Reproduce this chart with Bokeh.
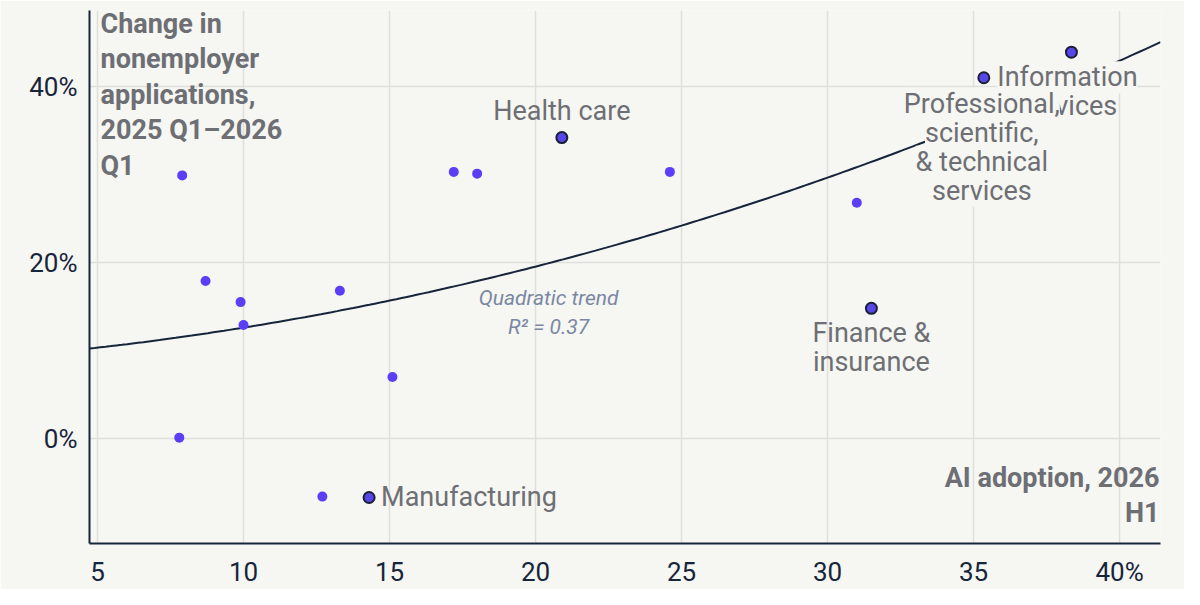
import numpy as np
from bokeh.plotting import figure
from bokeh.models import ColumnDataSource, FixedTicker
from bokeh.core.properties import value
from bokeh.embed import file_html
from bokeh.resources import INLINE

# ---- data ----
# unlabeled industries: AI adoption (%) and change in nonemployer applications (%)
ai_adoption = [7.9, 8.7, 9.9, 10.0, 7.8, 13.3, 12.7, 15.1, 17.2, 18.0, 24.6, 31.0]
nonemp_change = [29.9, 17.9, 15.5, 12.9, 0.1, 16.8, -6.6, 7.0, 30.3, 30.1, 30.3, 26.8]

# labeled industries
labeled_names = ["Manufacturing", "Health care", "Finance &\ninsurance",
                 "Professional,\nscientific,\n& technical\nservices",
                 "Information\nservices"]
labeled_ai = [14.3, 20.9, 31.5, 35.35, 38.35]
labeled_change = [-6.7, 34.2, 14.8, 41.0, 43.9]

x_ticks = [5, 10, 15, 20, 25, 30, 35, 40]
x_tick_labels = ["5", "10", "15", "20", "25", "30", "35", "40%"]
y_ticks = [0, 20, 40]
y_tick_labels = ["0%", "20%", "40%"]

y_title = "Change in\nnonemployer\napplications,\n2025 Q1\u20132026\nQ1"
x_title = "AI adoption, 2026\nH1"
trend_text = "Quadratic trend\nR\u00b2 = 0.37"

# ---- styles ----
BG = "#f6f6f2"
GRID = "#dfdfdb"
AXIS = "#16253a"
LABEL = "#6d6f74"
DOT = "#5b3ef5"
DOT_HL = "#5747e8"
TREND_TXT = "#7a88a2"
FONT = value("Roboto")

X0, X1 = 4.726, 41.40
Y0, Y1 = -11.93, 48.64

p = figure(width=1184, height=589, x_range=(X0, X1), y_range=(Y0, Y1),
           output_backend="svg", toolbar_location=None,
           min_border_left=89, min_border_right=24,
           min_border_top=10, min_border_bottom=46,
           background_fill_color=BG, border_fill_color=BG)
p.outline_line_color = None

# axes
p.xaxis.ticker = FixedTicker(ticks=x_ticks)
p.xaxis.major_label_overrides = {t: l for t, l in zip(x_ticks, x_tick_labels)}
p.yaxis.ticker = FixedTicker(ticks=y_ticks)
p.yaxis.major_label_overrides = {t: l for t, l in zip(y_ticks, y_tick_labels)}
for ax in (p.xaxis, p.yaxis):
    ax.axis_line_color = AXIS
    ax.axis_line_width = 2
    ax.major_tick_line_color = None
    ax.minor_tick_line_color = None
    ax.major_tick_out = 0
    ax.major_tick_in = 0
    ax.minor_tick_out = 0
    ax.minor_tick_in = 0
    ax.major_label_text_font = "Roboto"
    ax.major_label_text_font_size = "26px"
    ax.major_label_text_color = AXIS
p.xaxis.major_label_standoff = 13
p.yaxis.major_label_standoff = 12

p.xgrid.ticker = FixedTicker(ticks=x_ticks)
p.ygrid.ticker = FixedTicker(ticks=y_ticks)
for g in (p.xgrid, p.ygrid):
    g.grid_line_color = GRID
    g.grid_line_width = 1.5

# quadratic trend fitted to all points
all_x = np.array(ai_adoption + labeled_ai)
all_y = np.array(nonemp_change + labeled_change)
coef = np.polyfit(all_x, all_y, 2)
xs = np.linspace(X0, X1, 200)
p.line(xs, np.polyval(coef, xs), line_color=AXIS, line_width=2)

# points
p.scatter(ai_adoption, nonemp_change, size=10, fill_color=DOT, line_color=None)
p.scatter(labeled_ai, labeled_change, size=11, fill_color=DOT_HL,
          line_color="#1b2035", line_width=2)


def add_text(x, y, text, dx, dy, align, size, color, style="normal",
             line_h=29, bg=None):
    lines = text.split("\n")
    src = ColumnDataSource(dict(
        x=[x] * len(lines), y=[y] * len(lines), text=lines,
        xo=[dx] * len(lines), yo=[dy + i * line_h for i in range(len(lines))]))
    kw = {}
    if bg is not None:
        kw = dict(background_fill_color=bg)
    p.text(x="x", y="y", text="text", x_offset="xo", y_offset="yo", source=src,
           text_align=align, text_baseline="middle", text_font=FONT,
           text_font_size=size, text_color=color, text_font_style=style, **kw)


# point labels
label_off = {
    "Manufacturing": (12, 0, "left", None),
    "Health care": (0, -27, "center", None),
    "Finance &\ninsurance": (0, 25, "center", None),
    "Information\nservices": (-4, 25, "center", BG),
    "Professional,\nscientific,\n& technical\nservices": (-2, 26, "center", BG),
}
order = [0, 1, 2, 4, 3]
for i in order:
    name = labeled_names[i]
    dx, dy, al, bg = label_off[name]
    add_text(labeled_ai[i], labeled_change[i], name, dx, dy, al, "27px", LABEL,
             bg=bg)

# axis titles placed inside the plot
add_text(X0, Y1, y_title, 11, 13, "left", "27px", LABEL, style="bold",
         line_h=35.5)
add_text(X1, Y0, x_title, -1, -66, "right", "27px", LABEL, style="bold",
         line_h=35.5)

# trend annotation
add_text(20.0, 20.0, trend_text, 13, 35, "center", "21px", TREND_TXT,
         style="italic", line_h=29)

open("out.html", "w").write(file_html(p, INLINE))
